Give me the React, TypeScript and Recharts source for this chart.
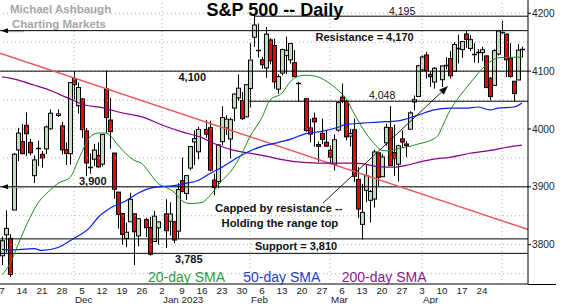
import React from "react";
import { ComposedChart, Bar, Line, XAxis, YAxis, ReferenceLine, ReferenceDot } from "recharts";

const FONT = "Arial, 'Liberation Sans', Helvetica, sans-serif";

// ---- daily OHLC (S&P 500) ----
const tradeDates = [
  "2022-11-07","2022-11-08","2022-11-09","2022-11-10","2022-11-11","2022-11-14","2022-11-15","2022-11-16","2022-11-17","2022-11-18",
  "2022-11-21","2022-11-22","2022-11-23","2022-11-25","2022-11-28","2022-11-29","2022-11-30",
  "2022-12-01","2022-12-02","2022-12-05","2022-12-06","2022-12-07","2022-12-08","2022-12-09","2022-12-12","2022-12-13","2022-12-14",
  "2022-12-15","2022-12-16","2022-12-19","2022-12-20","2022-12-21","2022-12-22","2022-12-23","2022-12-27","2022-12-28","2022-12-29","2022-12-30",
  "2023-01-03","2023-01-04","2023-01-05","2023-01-06","2023-01-09","2023-01-10","2023-01-11","2023-01-12","2023-01-13","2023-01-17",
  "2023-01-18","2023-01-19","2023-01-20","2023-01-23","2023-01-24","2023-01-25","2023-01-26","2023-01-27","2023-01-30","2023-01-31",
  "2023-02-01","2023-02-02","2023-02-03","2023-02-06","2023-02-07","2023-02-08","2023-02-09","2023-02-10","2023-02-13","2023-02-14",
  "2023-02-15","2023-02-16","2023-02-17","2023-02-21","2023-02-22","2023-02-23","2023-02-24","2023-02-27","2023-02-28",
  "2023-03-01","2023-03-02","2023-03-03","2023-03-06","2023-03-07","2023-03-08","2023-03-09","2023-03-10","2023-03-13","2023-03-14",
  "2023-03-15","2023-03-16","2023-03-17","2023-03-20","2023-03-21","2023-03-22","2023-03-23","2023-03-24","2023-03-27","2023-03-28",
  "2023-03-29","2023-03-30","2023-03-31",
  "2023-04-03","2023-04-04","2023-04-05","2023-04-06","2023-04-10","2023-04-11","2023-04-12","2023-04-13","2023-04-14","2023-04-17",
  "2023-04-18","2023-04-19","2023-04-20","2023-04-21","2023-04-24","2023-04-25","2023-04-26","2023-04-27","2023-04-28",
  "2023-05-01","2023-05-02","2023-05-03","2023-05-04","2023-05-05","2023-05-08",
];
const opens = [
  3780.7,3817.0,3810.9,3859.9,3963.7,3978.0,4006.4,3976.8,3919.3,3966.4,3956.2,3965.5,4000.3,4023.3,4005.4,3964.2,3957.2,
  4087.1,4040.2,4052.0,3996.6,3933.3,3947.8,3954.2,3939.3,4069.4,4015.5,3958.4,3890.9,3853.8,3810.5,3839.5,3853.3,3815.1,3843.3,3829.6,3805.5,3829.1,
  3853.3,3840.4,3839.7,3823.4,3910.8,3888.6,3932.4,3977.6,3960.6,3999.3,4002.3,3911.8,3909.0,3978.1,4001.7,3982.7,4036.1,4053.7,4049.3,4020.9,
  4070.1,4158.7,4136.7,4119.6,4105.4,4154.0,4144.3,4068.9,4096.6,4126.7,4119.5,4114.8,4077.4,4052.4,4001.8,4018.6,3973.2,3992.4,3977.2,
  3963.3,3938.7,3998.0,4055.2,4048.3,3987.6,3998.7,3912.8,3835.1,3894.0,3876.7,3878.9,3958.7,3917.5,3975.9,4002.0,3959.2,3939.2,3982.9,3974.1,3999.5,4046.7,4056.2,
  4102.2,4128.0,4094.5,4081.2,4085.2,4110.3,4121.7,4100.0,4140.1,4137.2,4164.3,4139.3,4130.5,4132.1,4132.1,4126.4,4087.8,4075.3,4129.6,
  4166.8,4164.1,4122.3,4082.6,4084.7,4137.0,
];
const highs = [
  3813.9,3859.4,3818.2,3958.3,4001.5,4009.0,4028.8,3983.1,3954.3,3979.9,3962.0,4005.9,4033.8,4034.0,4012.3,3976.8,4080.1,
  4100.5,4080.5,4052.5,4001.5,3957.6,3974.2,3977.0,3990.7,4101.0,4053.8,3958.4,3890.9,3854.9,3838.2,3889.8,3853.3,3845.8,3846.7,3848.3,3858.2,3839.9,
  3878.5,3873.2,3839.7,3906.2,3950.6,3919.8,3970.1,3997.8,4004.0,4015.4,4014.2,3922.9,3973.0,4039.3,4023.9,4019.6,4061.6,4094.2,4063.9,4077.2,
  4149.0,4195.4,4182.4,4124.6,4176.5,4156.9,4156.2,4094.4,4138.9,4159.8,4148.1,4136.5,4081.5,4052.4,4017.4,4028.3,3978.3,4018.1,3997.5,
  3971.7,3990.8,4048.3,4078.5,4050.0,4000.4,4017.8,3934.1,3905.1,3937.3,3894.3,3964.5,3958.9,3956.6,4009.1,4039.5,4007.7,3972.7,3997.4,3979.2,4030.6,4057.9,4110.8,
  4127.7,4133.1,4099.7,4107.3,4109.5,4124.3,4134.4,4150.3,4163.2,4151.7,4169.5,4162.6,4148.6,4138.0,4142.4,4126.4,4089.7,4138.2,4170.1,
  4186.9,4164.1,4148.3,4082.6,4147.0,4142.3,
];
const lows = [
  3764.7,3786.3,3744.2,3859.9,3944.8,3956.4,3953.2,3954.3,3906.5,3936.0,3933.3,3956.9,3998.7,4020.8,3955.8,3937.7,3938.6,
  4050.9,4026.6,3984.5,3918.4,3922.7,3935.8,3933.0,3935.3,3993.0,3965.7,3879.5,3827.9,3800.0,3795.6,3839.5,3764.5,3797.0,3813.2,3780.8,3805.5,3800.3,
  3794.3,3815.8,3802.4,3809.6,3890.4,3877.3,3928.5,3937.6,3947.7,3984.6,3926.6,3885.5,3897.9,3971.6,3989.8,3949.1,4013.3,4048.7,4015.6,4020.4,
  4037.2,4141.9,4123.4,4104.0,4088.4,4111.7,4069.7,4060.8,4092.7,4095.0,4113.0,4089.9,4048.0,3995.2,3976.9,3969.2,3943.1,3973.6,3969.0,
  3939.1,3928.2,3995.2,4044.6,3980.3,3969.8,3908.7,3846.3,3808.9,3873.6,3838.2,3864.1,3901.3,3916.9,3971.2,3936.2,3919.1,3909.2,3967.4,3951.5,3999.5,4032.1,4056.2,
  4098.8,4086.9,4072.6,4069.8,4072.6,4102.6,4086.9,4099.4,4113.2,4123.2,4140.4,4134.5,4114.6,4113.9,4117.8,4071.4,4049.4,4075.3,4127.2,
  4164.1,4089.7,4088.9,4048.3,4084.7,4123.8,
];
const closes = [
  3806.8,3828.1,3748.6,3956.4,3992.9,3957.3,3991.7,3958.8,3946.6,3965.3,3949.9,4003.6,4027.3,4026.1,3963.9,3957.6,4080.1,
  4076.6,4071.7,3998.8,3941.3,3933.9,3963.5,3934.4,3990.6,4019.7,3995.3,3895.8,3852.4,3817.7,3821.6,3878.4,3822.4,3844.8,3829.3,3783.2,3849.3,3839.5,
  3824.1,3853.0,3808.1,3895.1,3892.1,3919.3,3969.6,3983.2,3999.1,3991.0,3928.9,3898.9,3972.6,4019.8,4017.0,4016.2,4060.4,4070.6,4017.8,4076.6,
  4119.2,4179.8,4136.5,4111.1,4164.0,4117.9,4081.5,4090.5,4137.3,4136.1,4147.6,4090.4,4079.1,3997.3,3991.1,4012.3,3970.0,3982.2,3970.2,
  3951.4,3981.4,4045.6,4048.4,3986.4,3992.0,3918.3,3861.6,3855.8,3919.3,3891.9,3960.3,3916.6,3951.6,4002.9,3937.0,3948.7,3971.0,3977.5,3971.3,4027.8,4050.8,4109.3,
  4124.5,4100.6,4090.4,4105.0,4109.1,4108.9,4092.0,4146.2,4137.6,4151.3,4154.9,4154.5,4129.8,4133.5,4137.0,4071.6,4056.0,4135.4,4169.5,
  4167.9,4119.6,4090.8,4061.2,4136.3,4138.1,
];

// ---- moving averages (weekday number on the axis, price) ----
const sma20Days = [0,2,4,7,9,12,14,17,19,21,22,24,26,27,29,33,35,37,39,41,43,45,47,50,52,55,57,60,62,65,67,70,72,74,76,79,81,84,86,88,90,93,95,97,99,102,104,107,109,110,112,114,117,119,122,124,127,130];
const sma20Vals = [3748,3767,3800,3847,3872,3894,3906,3916,3945,3975,3986,3993,3993,3989,3972,3946,3940,3923,3906,3899,3891,3876,3871,3873,3885,3911,3925,3958,3987,4020,4050,4062,4081,4091,4093,4090,4083,4067,4053,4027,4003,3975,3963,3962,3966,3970,3974,3980,3989,4003,4032,4053,4079,4096,4116,4123,4124,4124];
const sma50Days = [0,2,8,10,14,18,22,24,27,31,34,38,43,46,49,52,55,59,62,65,68,72,76,80,84,86,90,94,99,104,108,112,116,119,122,124,128,130];
const sma50Vals = [3792,3791,3793,3790,3795,3811,3830,3847,3863,3876,3889,3899,3902,3906,3911,3923,3934,3951,3962,3970,3975,3982,3992,3996,4003,4008,4010,4012,4014,4024,4033,4036,4036,4038,4033,4036,4038,4045];
const sma200Days = [0,2,8,12,16,21,25,30,35,40,45,50,53,58,63,66,70,76,82,87,90,94,98,101,105,108,112,117,123,126,130];
const sma200Vals = [4090,4088,4076,4067,4055,4041,4037,4028,4021,4007,3995,3985,3975,3963,3957,3953,3947,3942,3941,3941,3940,3935,3934,3937,3944,3948,3951,3958,3964,3968,3972];

// ---- axes ----
const weekTickDays = [0,5,10,15,20,25,30,35,40,45,50,55,60,65,70,75,80,85,90,95,100,105,110,115,120];
const weekTickLabels = ["7","14","21","28","5","12","19","26","2","9","16","23","30","6","13","20","27","6","13","20","27","3","10","17","24"];
const monthTickDays = [18,40,62,82,105];
const monthTickLabels = ["Dec","Jan 2023","Feb","Mar","Apr"];
const monthGridDays = [18,40,62,82,105,125];
const priceTicks = [3800,3900,4000,4100,4200];
const gridLevels = [3750,3800,3850,3900,3950,4000,4050,4100,4150,4200];

// ---- annotations ----
const fullLevels = [4170,4100,3900,3810,3785];
const partialLevelStarts = [63,61.75];
const partialLevelVals = [4195,4048];
const markerLevels = [4170,3900];
const trendDays = [-0.5,131.5];
const trendVals = [4130.8,3826.3];
const arrowDays = [80.25,111.5];
const arrowVals = [3871.8,4074.2];

const START = Date.UTC(2022, 10, 7);
const dayIndex = (s: string) => {
  const [y, m, d] = s.split("-").map(Number);
  const days = Math.round((Date.UTC(y, m - 1, d) - START) / 86400000);
  return Math.floor(days / 7) * 5 + (days % 7);
};

const candles = tradeDates.map((d, n) => ({
  i: dayIndex(d), open: opens[n], high: highs[n], low: lows[n], close: closes[n],
}));
const toSeries = (days: number[], vals: number[]) => days.map((i, n) => ({ i, v: vals[n] }));
const sma20 = toSeries(sma20Days, sma20Vals);
const sma50 = toSeries(sma50Days, sma50Vals);
const sma200 = toSeries(sma200Days, sma200Vals);

const allTicks = Array.from(new Set([...weekTickDays, ...monthTickDays])).sort((a, b) => a - b);

const GREEN_BODY = "#c4dcc0";
const RED_BODY = "#f00000";

const Candle = (props: any) => {
  const { x, y, width, height, payload } = props;
  if (!payload || height == null || !(payload.high > payload.low)) return null;
  const { open, high, low, close } = payload;
  const k = height / (high - low);
  const cx = Math.round(x + width / 2);
  const yO = y + (high - open) * k;
  const yC = y + (high - close) * k;
  const top = Math.min(yO, yC);
  const bot = Math.max(yO, yC);
  const up = close >= open;
  return (
    <g>
      <line x1={cx + 0.5} x2={cx + 0.5} y1={y} y2={y + height} stroke="#000" strokeWidth={1} />
      {bot - top < 1.5 ? (
        <line x1={cx - 2} x2={cx + 3} y1={Math.round(top) + 0.5} y2={Math.round(top) + 0.5} stroke="#000" strokeWidth={1.5} />
      ) : (
        <rect x={cx - 1.5} y={top} width={4} height={bot - top} fill={up ? GREEN_BODY : RED_BODY} stroke="#000" strokeWidth={1} />
      )}
    </g>
  );
};

const XTick = (props: any) => {
  const { x, y, payload } = props;
  const v = payload.value;
  const w = weekTickDays.indexOf(v);
  const m = monthTickDays.indexOf(v);
  return (
    <g>
      {w >= 0 && (
        <text x={x} y={y + 10.2} textAnchor="middle" fontSize={9.8} fontFamily={FONT} fill="#222">{weekTickLabels[w]}</text>
      )}
      {m >= 0 && (
        <text x={x + 1} y={y + 18.6} textAnchor="start" fontSize={9.8} fontFamily={FONT} fill="#222">{monthTickLabels[m]}</text>
      )}
    </g>
  );
};

const LeftArrow = (props: any) => {
  const { cx, cy } = props;
  return (
    <g>
      <line x1={cx + 8} x2={cx + 24} y1={cy + 1} y2={cy + 1} stroke="#9a9a9a" strokeWidth={1} />
      <polygon points={`${cx + 1},${cy} ${cx + 8},${cy - 2.5} ${cx + 8},${cy + 2.5}`} fill="#000" />
    </g>
  );
};

const ArrowLine = (props: any) => {
  const { x1, y1, x2, y2 } = props;
  const ang = Math.atan2(y2 - y1, x2 - x1);
  const L = 9, W = 3.5;
  const bx = x2 - L * Math.cos(ang), by = y2 - L * Math.sin(ang);
  const px = -Math.sin(ang) * W, py = Math.cos(ang) * W;
  return (
    <g>
      <line x1={x1} y1={y1} x2={bx} y2={by} stroke="#222" strokeWidth={1} />
      <polygon points={`${x2},${y2} ${bx + px},${by + py} ${bx - px},${by - py}`} fill="#111" />
    </g>
  );
};

const T = (p: { x: number; y: number; s: number; b?: boolean; c?: string; children: string }) => (
  <text x={p.x} y={p.y} fontSize={p.s} fontWeight={p.b ? "bold" : "normal"} fill={p.c || "#111"} fontFamily={FONT}>{p.children}</text>
);

export default function App() {
  return (
    <div style={{ position: "absolute", left: 0, top: 0, width: 579, height: 304, background: "#fff" }}>
      <ComposedChart width={579} height={304} data={candles} margin={{ top: 0, right: 0, bottom: 0, left: 0 }}>
        <XAxis xAxisId="d" dataKey="i" type="number" domain={[-0.5, 131.5]} allowDataOverflow ticks={allTicks} interval={0}
          height={20} tickLine={false} tickSize={0} tickMargin={0} axisLine={{ stroke: "#000" }} tick={<XTick />} />
        <YAxis orientation="right" type="number" domain={[3732, 4223]} allowDataOverflow ticks={priceTicks} width={51}
          tickSize={3} tickMargin={1} axisLine={{ stroke: "#000" }} tickLine={{ stroke: "#000" }}
          tick={{ fontSize: 10.2, fill: "#222", fontFamily: FONT }} />

        {gridLevels.map((lv) => (
          <ReferenceLine key={"g" + lv} xAxisId="d" y={lv} stroke="#b0b0b0" strokeDasharray="1 3" />
        ))}
        {monthGridDays.map((d) => (
          <ReferenceLine key={"m" + d} xAxisId="d" x={d} stroke="#b0b0b0" strokeDasharray="1 3" />
        ))}
        {fullLevels.map((lv) => (
          <ReferenceLine key={"f" + lv} xAxisId="d" y={lv} stroke="#000" strokeWidth={1} />
        ))}
        {partialLevelVals.map((lv, n) => (
          <ReferenceLine key={"p" + lv} xAxisId="d" segment={[{ x: partialLevelStarts[n], y: lv }, { x: 131.5, y: lv }]} stroke="#000" strokeWidth={1} />
        ))}
        <ReferenceLine xAxisId="d" segment={[{ x: trendDays[0], y: trendVals[0] }, { x: trendDays[1], y: trendVals[1] }]}
          stroke="#e35a52" strokeWidth={1.5} />

        <Line xAxisId="d" data={sma200} dataKey="v" type="monotone" stroke="#880088" strokeWidth={1.2} dot={false} activeDot={false} isAnimationActive={false} />
        <Line xAxisId="d" data={sma50} dataKey="v" type="monotone" stroke="#0a1ee6" strokeWidth={1.2} dot={false} activeDot={false} isAnimationActive={false} />
        <Line xAxisId="d" data={sma20} dataKey="v" type="monotone" stroke="#1e901e" strokeWidth={1} dot={false} activeDot={false} isAnimationActive={false} />

        <Bar xAxisId="d" dataKey={(d: any) => [d.low, d.high]} barSize={4} shape={<Candle />} isAnimationActive={false} />

        <ReferenceLine xAxisId="d" segment={[{ x: arrowDays[0], y: arrowVals[0] }, { x: arrowDays[1], y: arrowVals[1] }]}
          shape={<ArrowLine />} />
        {markerLevels.map((lv) => (
          <ReferenceDot key={"a" + lv} xAxisId="d" x={-0.5} y={lv} r={0} shape={<LeftArrow />} />
        ))}
      </ComposedChart>

      <svg width={579} height={304} style={{ position: "absolute", left: 0, top: 0, pointerEvents: "none" }}>
        <line x1={528} x2={556} y1={284.5} y2={284.5} stroke="#000" strokeWidth={1} />
        <T x={10} y={12.7} s={11.5} b c="#a6a6a6">Michael Ashbaugh</T>
        <T x={12} y={27.6} s={11.5} b c="#a6a6a6">Charting Markets</T>
        <T x={206.5} y={16.3} s={18} b c="#000">S&amp;P 500 -- Daily</T>
        <T x={389} y={14.8} s={10.5}>4,195</T>
        <T x={315.5} y={41} s={11} b>Resistance = 4,170</T>
        <T x={178.5} y={81} s={11} b>4,100</T>
        <T x={369} y={99.3} s={10.5}>4,048</T>
        <T x={79} y={185} s={11} b>3,900</T>
        <T x={215} y={211.5} s={11.3} b>Capped by resistance --</T>
        <T x={221.5} y={226.5} s={11.3} b>Holding the range top</T>
        <T x={255} y={250} s={11} b>Support = 3,810</T>
        <T x={175} y={263} s={11} b>3,785</T>
        <T x={148} y={281.6} s={14} c="#2f9a3f">20-day SMA</T>
        <T x={243.3} y={281.6} s={14} c="#1e3cc8">50-day SMA</T>
        <T x={341.7} y={281.6} s={14} c="#8b1a8b">200-day SMA</T>
      </svg>
    </div>
  );
}
